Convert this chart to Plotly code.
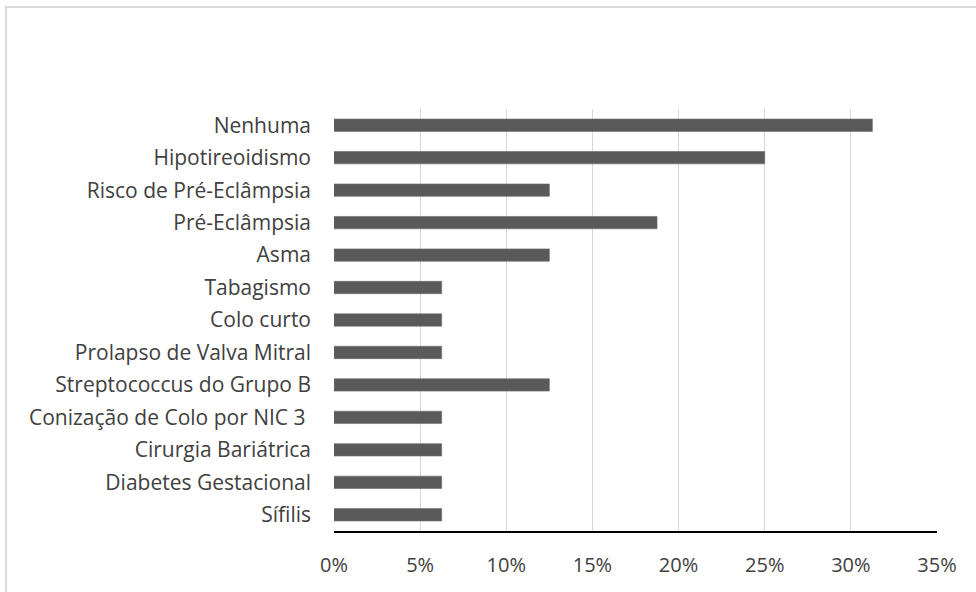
import plotly.graph_objects as go

categories = [
    "Nenhuma",
    "Hipotireoidismo",
    "Risco de Pré-Eclâmpsia",
    "Pré-Eclâmpsia",
    "Asma",
    "Tabagismo",
    "Colo curto",
    "Prolapso de Valva Mitral",
    "Streptococcus do Grupo B",
    "Conização de Colo por NIC 3\u00a0",
    "Cirurgia Bariátrica",
    "Diabetes Gestacional",
    "Sífilis",
]
values = [0.3125, 0.25, 0.125, 0.1875, 0.125, 0.0625, 0.0625, 0.0625,
          0.125, 0.0625, 0.0625, 0.0625, 0.0625]
x_ticks = [0, 0.05, 0.10, 0.15, 0.20, 0.25, 0.30, 0.35]
x_tick_labels = ["0%", "5%", "10%", "15%", "20%", "25%", "30%", "35%"]

W, H = 976, 592
L, R, T, B = 334, 39, 109, 61
FONT = "Open Sans"
TXT = "#404040"

fig = go.Figure(go.Bar(
    x=values,
    y=categories,
    orientation="h",
    width=0.38,
    marker=dict(color="#5a5a5a", line=dict(color="#6a6a6a", width=0.6)),
    hoverinfo="x+y",
))

# outer chart frame (only top and left edges fall inside the page)
pw, ph = W - L - R, H - T - B
fig.add_shape(
    type="rect", xref="paper", yref="paper",
    x0=(6 - L) / pw, x1=(W + 20 - L) / pw,
    y0=-(H + 20 - (H - B)) / ph, y1=1 + (T - 7) / ph,
    line=dict(color="#d9d9d9", width=2), fillcolor="rgba(0,0,0,0)",
    layer="below",
)

fig.update_layout(
    width=W, height=H,
    margin=dict(l=L, r=R, t=T, b=B),
    paper_bgcolor="white", plot_bgcolor="white",
    showlegend=False,
    bargap=0.62,
    font=dict(family=FONT, size=20, color=TXT),
    xaxis=dict(
        range=[0, 0.35],
        tickvals=x_ticks, ticktext=x_tick_labels,
        showgrid=True, gridcolor="#d9d9d9", gridwidth=1.3,
        zeroline=False,
        showline=True, linecolor="#000000", linewidth=2,
        ticks="", ticklabelstandoff=15,
        tickfont=dict(family=FONT, size=20, color=TXT),
        fixedrange=True,
    ),
    yaxis=dict(
        autorange="reversed",
        showgrid=False, zeroline=False, showline=False,
        ticks="", ticklabelstandoff=22,
        tickfont=dict(family=FONT, size=21, color=TXT),
        fixedrange=True,
    ),
)

fig.write_html("out.html")
